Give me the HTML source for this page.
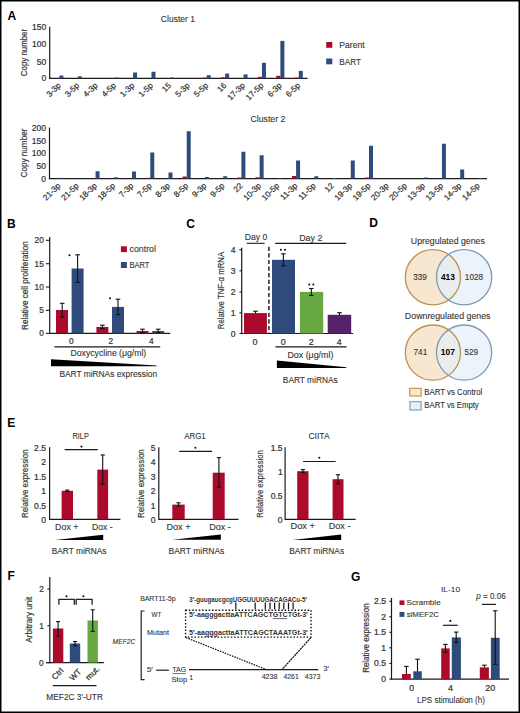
<!DOCTYPE html>
<html><head><meta charset="utf-8"><style>
html,body{margin:0;padding:0;background:#fff;}
svg{display:block;font-family:"Liberation Sans",sans-serif;}
text{stroke:#333;stroke-width:0.1px;}
text.tk{stroke-width:0.22px;}
text.ax{stroke-width:0.18px;}
text[font-weight="bold"]{stroke:none;}
</style></head><body>
<svg width="520" height="713" viewBox="0 0 520 713">
<rect x="0" y="0" width="520" height="713" fill="#fff"/>
<text x="7.50" y="20.0" font-size="12" font-weight="bold" fill="#000">A</text>
<text x="7.00" y="227.5" font-size="12" font-weight="bold" fill="#000">B</text>
<text x="186.21" y="227.5" font-size="12" font-weight="bold" fill="#000">C</text>
<text x="369.20" y="227.3" font-size="12" font-weight="bold" fill="#000">D</text>
<text x="7.20" y="426.6" font-size="12" font-weight="bold" fill="#000">E</text>
<text x="7.60" y="579.6" font-size="12" font-weight="bold" fill="#000">F</text>
<text x="351.01" y="580.7" font-size="12" font-weight="bold" fill="#000">G</text>
<text x="160.87" y="21.90" font-size="8.6" fill="#333333" textLength="34.15" lengthAdjust="spacingAndGlyphs">Cluster 1</text>
<line x1="49.7" y1="26.8" x2="49.7" y2="79.0" stroke="#1a1a1a" stroke-width="1.2"/>
<line x1="49.1" y1="78.4" x2="307.5" y2="78.4" stroke="#1a1a1a" stroke-width="1.2"/>
<text class="tk" x="32.05" y="30.20" font-size="8.5" fill="#333333" textLength="14.18" lengthAdjust="spacingAndGlyphs">150</text>
<text class="tk" x="32.05" y="47.40" font-size="8.5" fill="#333333" textLength="14.18" lengthAdjust="spacingAndGlyphs">100</text>
<text class="tk" x="36.78" y="64.60" font-size="8.5" fill="#333333" textLength="9.45" lengthAdjust="spacingAndGlyphs">50</text>
<text class="tk" x="41.50" y="81.40" font-size="8.5" fill="#333333" textLength="4.73" lengthAdjust="spacingAndGlyphs">0</text>
<text class="ax" transform="translate(26.70,75.80) rotate(-90)" x="-0.40" y="0" font-size="9.6" fill="#333333" textLength="47.33" lengthAdjust="spacingAndGlyphs">Copy number</text>
<rect x="59.41" y="75.50" width="4.00" height="2.90" fill="#2E4B7B"/>
<text class="tk" transform="translate(61.31,86.00) rotate(-45)" font-size="8.2" text-anchor="end" fill="#333333">3-3p</text>
<rect x="77.82" y="76.30" width="4.00" height="2.10" fill="#2E4B7B"/>
<text class="tk" transform="translate(79.72,86.00) rotate(-45)" font-size="8.2" text-anchor="end" fill="#333333">3-5p</text>
<text class="tk" transform="translate(98.14,86.00) rotate(-45)" font-size="8.2" text-anchor="end" fill="#333333">4-3p</text>
<rect x="114.65" y="77.50" width="4.00" height="0.90" fill="#2E4B7B"/>
<text class="tk" transform="translate(116.55,86.00) rotate(-45)" font-size="8.2" text-anchor="end" fill="#333333">4-5p</text>
<rect x="133.06" y="72.50" width="4.00" height="5.90" fill="#2E4B7B"/>
<text class="tk" transform="translate(134.96,86.00) rotate(-45)" font-size="8.2" text-anchor="end" fill="#333333">1-3p</text>
<rect x="151.48" y="71.75" width="4.00" height="6.65" fill="#2E4B7B"/>
<text class="tk" transform="translate(153.38,86.00) rotate(-45)" font-size="8.2" text-anchor="end" fill="#333333">1-5p</text>
<rect x="169.89" y="77.50" width="4.00" height="0.90" fill="#2E4B7B"/>
<text class="tk" transform="translate(171.79,86.00) rotate(-45)" font-size="8.2" text-anchor="end" fill="#333333">15</text>
<text class="tk" transform="translate(190.21,86.00) rotate(-45)" font-size="8.2" text-anchor="end" fill="#333333">5-3p</text>
<rect x="202.62" y="77.60" width="4.00" height="0.80" fill="#AC0A2C"/>
<rect x="206.72" y="75.20" width="4.00" height="3.20" fill="#2E4B7B"/>
<text class="tk" transform="translate(208.62,86.00) rotate(-45)" font-size="8.2" text-anchor="end" fill="#333333">5-5p</text>
<rect x="221.04" y="77.30" width="4.00" height="1.10" fill="#AC0A2C"/>
<rect x="225.14" y="73.60" width="4.00" height="4.80" fill="#2E4B7B"/>
<text class="tk" transform="translate(227.04,86.00) rotate(-45)" font-size="8.2" text-anchor="end" fill="#333333">16</text>
<rect x="243.55" y="74.40" width="4.00" height="4.00" fill="#2E4B7B"/>
<text class="tk" transform="translate(245.45,86.00) rotate(-45)" font-size="8.2" text-anchor="end" fill="#333333">17-3p</text>
<rect x="257.86" y="76.80" width="4.00" height="1.60" fill="#AC0A2C"/>
<rect x="261.96" y="62.80" width="4.00" height="15.60" fill="#2E4B7B"/>
<text class="tk" transform="translate(263.86,86.00) rotate(-45)" font-size="8.2" text-anchor="end" fill="#333333">17-5p</text>
<rect x="276.28" y="75.80" width="4.00" height="2.60" fill="#AC0A2C"/>
<rect x="280.38" y="40.90" width="4.00" height="37.50" fill="#2E4B7B"/>
<text class="tk" transform="translate(282.28,86.00) rotate(-45)" font-size="8.2" text-anchor="end" fill="#333333">6-3p</text>
<rect x="294.69" y="77.60" width="4.00" height="0.80" fill="#AC0A2C"/>
<rect x="298.79" y="70.90" width="4.00" height="7.50" fill="#2E4B7B"/>
<text class="tk" transform="translate(300.69,86.00) rotate(-45)" font-size="8.2" text-anchor="end" fill="#333333">6-5p</text>
<text x="250.56" y="121.90" font-size="8.6" fill="#333333" textLength="34.78" lengthAdjust="spacingAndGlyphs">Cluster 2</text>
<line x1="49.5" y1="127.5" x2="49.5" y2="179.2" stroke="#1a1a1a" stroke-width="1.2"/>
<line x1="48.9" y1="178.6" x2="487" y2="178.6" stroke="#1a1a1a" stroke-width="1.2"/>
<text class="tk" x="31.85" y="130.80" font-size="8.5" fill="#333333" textLength="14.18" lengthAdjust="spacingAndGlyphs">200</text>
<text class="tk" x="31.85" y="143.50" font-size="8.5" fill="#333333" textLength="14.18" lengthAdjust="spacingAndGlyphs">150</text>
<text class="tk" x="31.85" y="156.20" font-size="8.5" fill="#333333" textLength="14.18" lengthAdjust="spacingAndGlyphs">100</text>
<text class="tk" x="36.58" y="168.90" font-size="8.5" fill="#333333" textLength="9.45" lengthAdjust="spacingAndGlyphs">50</text>
<text class="tk" x="41.30" y="181.60" font-size="8.5" fill="#333333" textLength="4.73" lengthAdjust="spacingAndGlyphs">0</text>
<text class="ax" transform="translate(27.05,177.00) rotate(-90)" x="-0.41" y="0" font-size="9.6" fill="#333333" textLength="48.80" lengthAdjust="spacingAndGlyphs">Copy number</text>
<rect x="59.11" y="177.90" width="4.00" height="0.70" fill="#2E4B7B"/>
<text class="tk" transform="translate(61.01,186.20) rotate(-45)" font-size="8.2" text-anchor="end" fill="#333333">21-3p</text>
<text class="tk" transform="translate(79.24,186.20) rotate(-45)" font-size="8.2" text-anchor="end" fill="#333333">21-5p</text>
<rect x="95.57" y="171.25" width="4.00" height="7.35" fill="#2E4B7B"/>
<text class="tk" transform="translate(97.47,186.20) rotate(-45)" font-size="8.2" text-anchor="end" fill="#333333">18-3p</text>
<rect x="113.80" y="177.25" width="4.00" height="1.35" fill="#2E4B7B"/>
<text class="tk" transform="translate(115.70,186.20) rotate(-45)" font-size="8.2" text-anchor="end" fill="#333333">18-5p</text>
<rect x="132.03" y="171.50" width="4.00" height="7.10" fill="#2E4B7B"/>
<text class="tk" transform="translate(133.93,186.20) rotate(-45)" font-size="8.2" text-anchor="end" fill="#333333">7-3p</text>
<rect x="146.16" y="177.80" width="4.00" height="0.80" fill="#AC0A2C"/>
<rect x="150.26" y="152.50" width="4.00" height="26.10" fill="#2E4B7B"/>
<text class="tk" transform="translate(152.16,186.20) rotate(-45)" font-size="8.2" text-anchor="end" fill="#333333">7-5p</text>
<rect x="168.49" y="172.50" width="4.00" height="6.10" fill="#2E4B7B"/>
<text class="tk" transform="translate(170.39,186.20) rotate(-45)" font-size="8.2" text-anchor="end" fill="#333333">8-3p</text>
<rect x="182.62" y="176.50" width="4.00" height="2.10" fill="#AC0A2C"/>
<rect x="186.72" y="131.25" width="4.00" height="47.35" fill="#2E4B7B"/>
<text class="tk" transform="translate(188.62,186.20) rotate(-45)" font-size="8.2" text-anchor="end" fill="#333333">8-5p</text>
<rect x="204.95" y="177.00" width="4.00" height="1.60" fill="#2E4B7B"/>
<text class="tk" transform="translate(206.85,186.20) rotate(-45)" font-size="8.2" text-anchor="end" fill="#333333">9-3p</text>
<rect x="223.18" y="176.25" width="4.00" height="2.35" fill="#2E4B7B"/>
<text class="tk" transform="translate(225.08,186.20) rotate(-45)" font-size="8.2" text-anchor="end" fill="#333333">9-5p</text>
<rect x="237.31" y="177.50" width="4.00" height="1.10" fill="#AC0A2C"/>
<rect x="241.41" y="151.75" width="4.00" height="26.85" fill="#2E4B7B"/>
<text class="tk" transform="translate(243.31,186.20) rotate(-45)" font-size="8.2" text-anchor="end" fill="#333333">22</text>
<rect x="255.54" y="177.25" width="4.00" height="1.35" fill="#AC0A2C"/>
<rect x="259.64" y="155.25" width="4.00" height="23.35" fill="#2E4B7B"/>
<text class="tk" transform="translate(261.54,186.20) rotate(-45)" font-size="8.2" text-anchor="end" fill="#333333">10-3p</text>
<rect x="277.86" y="178.00" width="4.00" height="0.60" fill="#2E4B7B"/>
<text class="tk" transform="translate(279.76,186.20) rotate(-45)" font-size="8.2" text-anchor="end" fill="#333333">10-5p</text>
<rect x="291.99" y="176.00" width="4.00" height="2.60" fill="#AC0A2C"/>
<rect x="296.09" y="160.50" width="4.00" height="18.10" fill="#2E4B7B"/>
<text class="tk" transform="translate(297.99,186.20) rotate(-45)" font-size="8.2" text-anchor="end" fill="#333333">11-3p</text>
<rect x="314.32" y="176.25" width="4.00" height="2.35" fill="#2E4B7B"/>
<text class="tk" transform="translate(316.22,186.20) rotate(-45)" font-size="8.2" text-anchor="end" fill="#333333">11-5p</text>
<rect x="332.55" y="178.00" width="4.00" height="0.60" fill="#2E4B7B"/>
<text class="tk" transform="translate(334.45,186.20) rotate(-45)" font-size="8.2" text-anchor="end" fill="#333333">12</text>
<rect x="350.78" y="160.50" width="4.00" height="18.10" fill="#2E4B7B"/>
<text class="tk" transform="translate(352.68,186.20) rotate(-45)" font-size="8.2" text-anchor="end" fill="#333333">19-3p</text>
<rect x="364.91" y="177.50" width="4.00" height="1.10" fill="#AC0A2C"/>
<rect x="369.01" y="145.75" width="4.00" height="32.85" fill="#2E4B7B"/>
<text class="tk" transform="translate(370.91,186.20) rotate(-45)" font-size="8.2" text-anchor="end" fill="#333333">19-5p</text>
<text class="tk" transform="translate(389.14,186.20) rotate(-45)" font-size="8.2" text-anchor="end" fill="#333333">20-3p</text>
<text class="tk" transform="translate(407.37,186.20) rotate(-45)" font-size="8.2" text-anchor="end" fill="#333333">20-5p</text>
<rect x="423.70" y="177.50" width="4.00" height="1.10" fill="#2E4B7B"/>
<text class="tk" transform="translate(425.60,186.20) rotate(-45)" font-size="8.2" text-anchor="end" fill="#333333">13-3p</text>
<rect x="441.93" y="143.75" width="4.00" height="34.85" fill="#2E4B7B"/>
<text class="tk" transform="translate(443.83,186.20) rotate(-45)" font-size="8.2" text-anchor="end" fill="#333333">13-5p</text>
<rect x="460.16" y="169.50" width="4.00" height="9.10" fill="#2E4B7B"/>
<text class="tk" transform="translate(462.06,186.20) rotate(-45)" font-size="8.2" text-anchor="end" fill="#333333">14-3p</text>
<rect x="478.39" y="178.00" width="4.00" height="0.60" fill="#2E4B7B"/>
<text class="tk" transform="translate(480.29,186.20) rotate(-45)" font-size="8.2" text-anchor="end" fill="#333333">14-5p</text>
<rect x="326.20" y="42.00" width="6.10" height="5.80" fill="#AC0A2C"/>
<rect x="326.20" y="58.50" width="6.10" height="5.80" fill="#2E4B7B"/>
<text x="339.29" y="47.70" font-size="8.6" fill="#333333" textLength="25.37" lengthAdjust="spacingAndGlyphs">Parent</text>
<text x="339.33" y="64.50" font-size="8.2" fill="#333333" textLength="21.65" lengthAdjust="spacingAndGlyphs">BART</text>
<line x1="49.7" y1="236.9" x2="49.7" y2="333.9" stroke="#1a1a1a" stroke-width="1.2"/>
<line x1="49.7" y1="333.4" x2="170.3" y2="333.4" stroke="#1a1a1a" stroke-width="1.2"/>
<line x1="45.9" y1="240.3" x2="49.7" y2="240.3" stroke="#1a1a1a" stroke-width="1.1"/>
<text class="tk" x="34.59" y="243.20" font-size="8.3" fill="#333333" textLength="9.23" lengthAdjust="spacingAndGlyphs">20</text>
<line x1="45.9" y1="263.7" x2="49.7" y2="263.7" stroke="#1a1a1a" stroke-width="1.1"/>
<text class="tk" x="34.62" y="266.60" font-size="8.3" fill="#333333" textLength="9.23" lengthAdjust="spacingAndGlyphs">15</text>
<line x1="45.9" y1="287" x2="49.7" y2="287" stroke="#1a1a1a" stroke-width="1.1"/>
<text class="tk" x="34.59" y="289.90" font-size="8.3" fill="#333333" textLength="9.23" lengthAdjust="spacingAndGlyphs">10</text>
<line x1="45.9" y1="310.3" x2="49.7" y2="310.3" stroke="#1a1a1a" stroke-width="1.1"/>
<text class="tk" x="39.23" y="313.20" font-size="8.3" fill="#333333" textLength="4.62" lengthAdjust="spacingAndGlyphs">5</text>
<line x1="45.9" y1="333.4" x2="49.7" y2="333.4" stroke="#1a1a1a" stroke-width="1.1"/>
<text class="tk" x="39.21" y="336.30" font-size="8.3" fill="#333333" textLength="4.62" lengthAdjust="spacingAndGlyphs">0</text>
<text class="ax" transform="translate(27.70,329.30) rotate(-90)" x="-0.67" y="0" font-size="9" fill="#333333" textLength="88.70" lengthAdjust="spacingAndGlyphs">Relative cell proliferation</text>
<rect x="56.00" y="310.00" width="12.00" height="23.40" fill="#AC0A2C"/>
<rect x="71.60" y="268.50" width="12.00" height="64.90" fill="#2E4B7B"/>
<rect x="96.40" y="326.90" width="12.00" height="6.50" fill="#AC0A2C"/>
<rect x="112.00" y="306.90" width="12.00" height="26.50" fill="#2E4B7B"/>
<rect x="136.50" y="331.00" width="12.00" height="2.40" fill="#AC0A2C"/>
<rect x="152.20" y="331.00" width="12.00" height="2.40" fill="#2E4B7B"/>
<line x1="62.2" y1="303.3" x2="62.2" y2="317.2" stroke="#111" stroke-width="1.1"/>
<line x1="59.900000000000006" y1="303.3" x2="64.5" y2="303.3" stroke="#111" stroke-width="1.1"/>
<line x1="59.900000000000006" y1="317.2" x2="64.5" y2="317.2" stroke="#111" stroke-width="1.1"/>
<line x1="77.6" y1="254.8" x2="77.6" y2="282.4" stroke="#111" stroke-width="1.1"/>
<line x1="75.3" y1="254.8" x2="79.89999999999999" y2="254.8" stroke="#111" stroke-width="1.1"/>
<line x1="75.3" y1="282.4" x2="79.89999999999999" y2="282.4" stroke="#111" stroke-width="1.1"/>
<line x1="102.4" y1="325.2" x2="102.4" y2="328.6" stroke="#111" stroke-width="1.1"/>
<line x1="100.10000000000001" y1="325.2" x2="104.7" y2="325.2" stroke="#111" stroke-width="1.1"/>
<line x1="100.10000000000001" y1="328.6" x2="104.7" y2="328.6" stroke="#111" stroke-width="1.1"/>
<line x1="118" y1="299.2" x2="118" y2="314.6" stroke="#111" stroke-width="1.1"/>
<line x1="115.7" y1="299.2" x2="120.3" y2="299.2" stroke="#111" stroke-width="1.1"/>
<line x1="115.7" y1="314.6" x2="120.3" y2="314.6" stroke="#111" stroke-width="1.1"/>
<line x1="142.5" y1="329.2" x2="142.5" y2="332.8" stroke="#111" stroke-width="1.1"/>
<line x1="140.2" y1="329.2" x2="144.8" y2="329.2" stroke="#111" stroke-width="1.1"/>
<line x1="140.2" y1="332.8" x2="144.8" y2="332.8" stroke="#111" stroke-width="1.1"/>
<line x1="158.2" y1="329.2" x2="158.2" y2="332.8" stroke="#111" stroke-width="1.1"/>
<line x1="155.89999999999998" y1="329.2" x2="160.5" y2="329.2" stroke="#111" stroke-width="1.1"/>
<line x1="155.89999999999998" y1="332.8" x2="160.5" y2="332.8" stroke="#111" stroke-width="1.1"/>
<circle cx="69.5" cy="255.2" r="1.05" fill="#111"/>
<circle cx="110" cy="298.2" r="1.05" fill="#111"/>
<rect x="120.90" y="246.30" width="6.00" height="5.80" fill="#AC0A2C"/>
<rect x="120.90" y="262.00" width="6.00" height="6.00" fill="#2E4B7B"/>
<text x="129.63" y="252.10" font-size="8.7" fill="#333333" textLength="26.26" lengthAdjust="spacingAndGlyphs">control</text>
<text x="129.38" y="268.00" font-size="8.2" fill="#333333" textLength="20.09" lengthAdjust="spacingAndGlyphs">BART</text>
<text class="tk" x="68.89" y="343.50" font-size="8.3" fill="#333333" textLength="4.62" lengthAdjust="spacingAndGlyphs">0</text>
<text class="tk" x="108.49" y="343.50" font-size="8.3" fill="#333333" textLength="4.62" lengthAdjust="spacingAndGlyphs">2</text>
<text class="tk" x="149.02" y="343.50" font-size="8.3" fill="#333333" textLength="4.62" lengthAdjust="spacingAndGlyphs">4</text>
<line x1="54.4" y1="346.9" x2="160.2" y2="346.9" stroke="#1a1a1a" stroke-width="1.1"/>
<text x="70.49" y="355.90" font-size="8.6" fill="#333333" textLength="75.75" lengthAdjust="spacingAndGlyphs">Doxycycline (μg/ml)</text>
<polygon points="51,359.2 156.5,365.5 156.5,366.3 51,366.3" fill="#000"/>
<text x="59.42" y="377.00" font-size="8.3" fill="#333333" textLength="97.72" lengthAdjust="spacingAndGlyphs">BART miRNAs expression</text>
<line x1="241.7" y1="247.7" x2="241.7" y2="334" stroke="#1a1a1a" stroke-width="1.2"/>
<line x1="241.7" y1="333.5" x2="353.1" y2="333.5" stroke="#1a1a1a" stroke-width="1.2"/>
<line x1="239.4" y1="249.7" x2="241.7" y2="249.7" stroke="#1a1a1a" stroke-width="1.1"/>
<text class="tk" x="230.67" y="252.90" font-size="8.6" fill="#333333" textLength="4.78" lengthAdjust="spacingAndGlyphs">4</text>
<line x1="239.4" y1="270.8" x2="241.7" y2="270.8" stroke="#1a1a1a" stroke-width="1.1"/>
<text class="tk" x="230.80" y="274.00" font-size="8.6" fill="#333333" textLength="4.78" lengthAdjust="spacingAndGlyphs">3</text>
<line x1="239.4" y1="291.9" x2="241.7" y2="291.9" stroke="#1a1a1a" stroke-width="1.1"/>
<text class="tk" x="230.85" y="295.10" font-size="8.6" fill="#333333" textLength="4.78" lengthAdjust="spacingAndGlyphs">2</text>
<line x1="239.4" y1="312.9" x2="241.7" y2="312.9" stroke="#1a1a1a" stroke-width="1.1"/>
<text class="tk" x="230.84" y="316.10" font-size="8.6" fill="#333333" textLength="4.78" lengthAdjust="spacingAndGlyphs">1</text>
<line x1="239.4" y1="333.5" x2="241.7" y2="333.5" stroke="#1a1a1a" stroke-width="1.1"/>
<text class="tk" x="230.75" y="336.70" font-size="8.6" fill="#333333" textLength="4.78" lengthAdjust="spacingAndGlyphs">0</text>
<text class="ax" transform="translate(223.83,328.60) rotate(-90)" x="-0.64" y="0" font-size="9.4" fill="#333333" textLength="77.35" lengthAdjust="spacingAndGlyphs">Relative TNF-α mRNA</text>
<rect x="244.00" y="313.10" width="22.90" height="20.40" fill="#AC0A2C"/>
<rect x="272.00" y="259.80" width="23.00" height="73.70" fill="#2E4B7B"/>
<rect x="299.90" y="291.90" width="23.30" height="41.60" fill="#68A843"/>
<rect x="327.70" y="314.80" width="23.50" height="18.70" fill="#56226A"/>
<line x1="255.5" y1="311.2" x2="255.5" y2="313.4" stroke="#111" stroke-width="1.1"/>
<line x1="253.05" y1="311.2" x2="257.95" y2="311.2" stroke="#111" stroke-width="1.1"/>
<line x1="283.4" y1="253.8" x2="283.4" y2="265.7" stroke="#111" stroke-width="1.1"/>
<line x1="281.09999999999997" y1="253.8" x2="285.7" y2="253.8" stroke="#111" stroke-width="1.1"/>
<line x1="281.09999999999997" y1="265.7" x2="285.7" y2="265.7" stroke="#111" stroke-width="1.1"/>
<line x1="311.3" y1="288.5" x2="311.3" y2="295.4" stroke="#111" stroke-width="1.1"/>
<line x1="309.05" y1="288.5" x2="313.55" y2="288.5" stroke="#111" stroke-width="1.1"/>
<line x1="309.05" y1="295.4" x2="313.55" y2="295.4" stroke="#111" stroke-width="1.1"/>
<line x1="339.5" y1="312.7" x2="339.5" y2="315.2" stroke="#111" stroke-width="1.1"/>
<line x1="337.2" y1="312.7" x2="341.8" y2="312.7" stroke="#111" stroke-width="1.1"/>
<circle cx="280.9" cy="249.8" r="1.05" fill="#111"/>
<circle cx="285" cy="249.8" r="1.05" fill="#111"/>
<circle cx="309.3" cy="284.5" r="1.05" fill="#111"/>
<circle cx="313.4" cy="284.5" r="1.05" fill="#111"/>
<line x1="268.9" y1="246.7" x2="268.9" y2="333.5" stroke="#222" stroke-width="1.5" stroke-dasharray="4.2,2.4"/>
<text x="244.69" y="240.00" font-size="8.6" fill="#333333" textLength="22.55" lengthAdjust="spacingAndGlyphs">Day 0</text>
<line x1="246.7" y1="243.3" x2="264.6" y2="243.3" stroke="#1a1a1a" stroke-width="1.1"/>
<text x="299.17" y="240.50" font-size="8.8" fill="#333333" textLength="23.28" lengthAdjust="spacingAndGlyphs">Day 2</text>
<line x1="275.2" y1="243.4" x2="346.2" y2="243.4" stroke="#1a1a1a" stroke-width="1.1"/>
<text class="tk" x="252.53" y="345.10" font-size="8.9" fill="#333333" textLength="4.95" lengthAdjust="spacingAndGlyphs">0</text>
<text class="tk" x="280.83" y="345.10" font-size="8.9" fill="#333333" textLength="4.95" lengthAdjust="spacingAndGlyphs">0</text>
<text class="tk" x="308.83" y="345.10" font-size="8.9" fill="#333333" textLength="4.95" lengthAdjust="spacingAndGlyphs">2</text>
<text class="tk" x="336.85" y="345.10" font-size="8.9" fill="#333333" textLength="4.95" lengthAdjust="spacingAndGlyphs">4</text>
<line x1="275.4" y1="346.9" x2="346.6" y2="346.9" stroke="#1a1a1a" stroke-width="1.1"/>
<text x="287.47" y="357.70" font-size="8.7" fill="#333333" textLength="45.87" lengthAdjust="spacingAndGlyphs">Dox (μg/ml)</text>
<polygon points="276.9,360.5 346.4,367.2 346.4,368 276.9,368" fill="#000"/>
<text x="282.82" y="383.10" font-size="8.4" fill="#333333" textLength="54.88" lengthAdjust="spacingAndGlyphs">BART miRNAs</text>
<text x="410.82" y="243.50" font-size="8.4" fill="#333333" textLength="73.99" lengthAdjust="spacingAndGlyphs">Upregulated genes</text>
<text x="404.88" y="319.40" font-size="8.4" fill="#333333" textLength="85.64" lengthAdjust="spacingAndGlyphs">Downregulated genes</text>
<circle cx="432.9" cy="277.2" r="27.6" fill="#F7E6D0"/>
<circle cx="464.1" cy="277.2" r="27.6" fill="#E6EEF8" fill-opacity="0.72"/>
<circle cx="432.9" cy="277.2" r="27.6" fill="none" stroke="#B8954E" stroke-width="1.3"/>
<circle cx="464.1" cy="277.2" r="27.6" fill="none" stroke="#7D9BB5" stroke-width="1.3"/>
<circle cx="432.9" cy="352.6" r="27.6" fill="#F7E6D0"/>
<circle cx="464.1" cy="352.6" r="27.6" fill="#E6EEF8" fill-opacity="0.72"/>
<circle cx="432.9" cy="352.6" r="27.6" fill="none" stroke="#B8954E" stroke-width="1.3"/>
<circle cx="464.1" cy="352.6" r="27.6" fill="none" stroke="#7D9BB5" stroke-width="1.3"/>
<text x="413.20" y="279.90" font-size="8.2" fill="#333333" textLength="13.68" lengthAdjust="spacingAndGlyphs">339</text>
<text class="tk" x="440.88" y="279.90" font-size="8.4" font-weight="bold" fill="#000" textLength="14.02" lengthAdjust="spacingAndGlyphs">413</text>
<text x="464.84" y="279.90" font-size="8.2" fill="#333333" textLength="18.24" lengthAdjust="spacingAndGlyphs">1028</text>
<text x="413.55" y="355.10" font-size="8.2" fill="#333333" textLength="13.68" lengthAdjust="spacingAndGlyphs">741</text>
<text class="tk" x="440.81" y="355.10" font-size="8.4" font-weight="bold" fill="#000" textLength="14.02" lengthAdjust="spacingAndGlyphs">107</text>
<text x="464.39" y="355.10" font-size="8.2" fill="#333333" textLength="13.68" lengthAdjust="spacingAndGlyphs">529</text>
<rect x="409.7" y="388.4" width="11.5" height="7.6" fill="#F7E6D0" stroke="#C4A05A" stroke-width="1.3"/>
<rect x="409.9" y="401.6" width="11.2" height="8.4" fill="#E6EEF8" stroke="#8AA8C4" stroke-width="1.3"/>
<text x="424.26" y="394.80" font-size="8.2" fill="#333333" textLength="58.06" lengthAdjust="spacingAndGlyphs">BART vs Control</text>
<text x="424.37" y="408.40" font-size="8.2" fill="#333333" textLength="54.35" lengthAdjust="spacingAndGlyphs">BART vs Empty</text>
<line x1="49.6" y1="447.3" x2="49.6" y2="519.9" stroke="#1a1a1a" stroke-width="1.2"/>
<line x1="49.6" y1="519.3" x2="120.4" y2="519.3" stroke="#1a1a1a" stroke-width="1.2"/>
<text class="tk" x="34.11" y="451.00" font-size="8.6" fill="#333333" textLength="11.96" lengthAdjust="spacingAndGlyphs">2.5</text>
<text class="tk" x="41.35" y="465.40" font-size="8.6" fill="#333333" textLength="4.78" lengthAdjust="spacingAndGlyphs">2</text>
<text class="tk" x="34.11" y="479.80" font-size="8.6" fill="#333333" textLength="11.96" lengthAdjust="spacingAndGlyphs">1.5</text>
<text class="tk" x="41.34" y="494.20" font-size="8.6" fill="#333333" textLength="4.78" lengthAdjust="spacingAndGlyphs">1</text>
<text class="tk" x="34.11" y="508.60" font-size="8.6" fill="#333333" textLength="11.96" lengthAdjust="spacingAndGlyphs">0.5</text>
<text class="tk" x="41.25" y="523.00" font-size="8.6" fill="#333333" textLength="4.78" lengthAdjust="spacingAndGlyphs">0</text>
<text class="ax" transform="translate(28.23,517.40) rotate(-90)" x="-0.65" y="0" font-size="8.8" fill="#333333" textLength="68.66" lengthAdjust="spacingAndGlyphs">Relative expression</text>
<text x="72.50" y="438.80" font-size="9.4" fill="#333333" textLength="16.39" lengthAdjust="spacingAndGlyphs">RILP</text>
<rect x="61.60" y="490.80" width="11.40" height="28.50" fill="#AC0A2C"/>
<rect x="97.30" y="469.60" width="10.80" height="49.70" fill="#AC0A2C"/>
<line x1="67.3" y1="490.1" x2="67.3" y2="491.5" stroke="#111" stroke-width="1.1"/>
<line x1="65.2" y1="490.1" x2="69.39999999999999" y2="490.1" stroke="#111" stroke-width="1.1"/>
<line x1="65.2" y1="491.5" x2="69.39999999999999" y2="491.5" stroke="#111" stroke-width="1.1"/>
<line x1="102.7" y1="455" x2="102.7" y2="484.2" stroke="#111" stroke-width="1.1"/>
<line x1="100.60000000000001" y1="455" x2="104.8" y2="455" stroke="#111" stroke-width="1.1"/>
<line x1="100.60000000000001" y1="484.2" x2="104.8" y2="484.2" stroke="#111" stroke-width="1.1"/>
<line x1="64.7" y1="449.6" x2="97.8" y2="449.6" stroke="#1a1a1a" stroke-width="1.2"/>
<circle cx="81.5" cy="446.6" r="1.05" fill="#111"/>
<text x="55.07" y="530.10" font-size="8.2" fill="#333333" textLength="23.47" lengthAdjust="spacingAndGlyphs">Dox +</text>
<text x="91.99" y="530.10" font-size="8.2" fill="#333333" textLength="20.59" lengthAdjust="spacingAndGlyphs">Dox -</text>
<polygon points="55,539.9 103.2,534.7 103.2,539.9" fill="#000"/>
<text x="51.72" y="554.20" font-size="8.2" fill="#333333" textLength="54.78" lengthAdjust="spacingAndGlyphs">BART miRNAs</text>
<line x1="158.8" y1="447.3" x2="158.8" y2="519.9" stroke="#1a1a1a" stroke-width="1.2"/>
<line x1="158.8" y1="519.3" x2="238.5" y2="519.3" stroke="#1a1a1a" stroke-width="1.2"/>
<text class="tk" x="150.78" y="451.00" font-size="8.6" fill="#333333" textLength="4.78" lengthAdjust="spacingAndGlyphs">5</text>
<text class="tk" x="150.67" y="465.40" font-size="8.6" fill="#333333" textLength="4.78" lengthAdjust="spacingAndGlyphs">4</text>
<text class="tk" x="150.80" y="479.80" font-size="8.6" fill="#333333" textLength="4.78" lengthAdjust="spacingAndGlyphs">3</text>
<text class="tk" x="150.85" y="494.20" font-size="8.6" fill="#333333" textLength="4.78" lengthAdjust="spacingAndGlyphs">2</text>
<text class="tk" x="150.84" y="508.60" font-size="8.6" fill="#333333" textLength="4.78" lengthAdjust="spacingAndGlyphs">1</text>
<text class="tk" x="150.75" y="523.00" font-size="8.6" fill="#333333" textLength="4.78" lengthAdjust="spacingAndGlyphs">0</text>
<text class="ax" transform="translate(143.83,517.30) rotate(-90)" x="-0.65" y="0" font-size="8.8" fill="#333333" textLength="68.66" lengthAdjust="spacingAndGlyphs">Relative expression</text>
<text x="184.18" y="438.80" font-size="9.4" fill="#333333" textLength="21.60" lengthAdjust="spacingAndGlyphs">ARG1</text>
<rect x="172.30" y="504.60" width="12.40" height="14.70" fill="#AC0A2C"/>
<rect x="212.70" y="472.70" width="12.00" height="46.60" fill="#AC0A2C"/>
<line x1="178.5" y1="502.8" x2="178.5" y2="506.2" stroke="#111" stroke-width="1.1"/>
<line x1="176.4" y1="502.8" x2="180.6" y2="502.8" stroke="#111" stroke-width="1.1"/>
<line x1="176.4" y1="506.2" x2="180.6" y2="506.2" stroke="#111" stroke-width="1.1"/>
<line x1="218.9" y1="457.7" x2="218.9" y2="487.1" stroke="#111" stroke-width="1.1"/>
<line x1="216.8" y1="457.7" x2="221.0" y2="457.7" stroke="#111" stroke-width="1.1"/>
<line x1="216.8" y1="487.1" x2="221.0" y2="487.1" stroke="#111" stroke-width="1.1"/>
<line x1="179.2" y1="451.3" x2="212" y2="451.3" stroke="#1a1a1a" stroke-width="1.2"/>
<circle cx="195.4" cy="447.8" r="1.05" fill="#111"/>
<text x="166.56" y="529.80" font-size="8.2" fill="#333333" textLength="23.89" lengthAdjust="spacingAndGlyphs">Dox +</text>
<text x="209.26" y="529.80" font-size="8.2" fill="#333333" textLength="21.54" lengthAdjust="spacingAndGlyphs">Dox -</text>
<polygon points="172.1,539.8 220.8,534.6 220.8,539.8" fill="#000"/>
<text x="168.51" y="553.80" font-size="8.2" fill="#333333" textLength="55.80" lengthAdjust="spacingAndGlyphs">BART miRNAs</text>
<line x1="285.1" y1="447.3" x2="285.1" y2="519.9" stroke="#1a1a1a" stroke-width="1.2"/>
<line x1="285.1" y1="519.3" x2="355.7" y2="519.3" stroke="#1a1a1a" stroke-width="1.2"/>
<text class="tk" x="270.71" y="451.00" font-size="8.6" fill="#333333" textLength="11.96" lengthAdjust="spacingAndGlyphs">1.5</text>
<text class="tk" x="277.94" y="475.00" font-size="8.6" fill="#333333" textLength="4.78" lengthAdjust="spacingAndGlyphs">1</text>
<text class="tk" x="270.71" y="499.00" font-size="8.6" fill="#333333" textLength="11.96" lengthAdjust="spacingAndGlyphs">0.5</text>
<text class="tk" x="277.85" y="523.00" font-size="8.6" fill="#333333" textLength="4.78" lengthAdjust="spacingAndGlyphs">0</text>
<text class="ax" transform="translate(263.13,517.20) rotate(-90)" x="-0.64" y="0" font-size="8.8" fill="#333333" textLength="67.74" lengthAdjust="spacingAndGlyphs">Relative expression</text>
<text x="308.38" y="438.80" font-size="9.4" fill="#333333" textLength="21.24" lengthAdjust="spacingAndGlyphs">CIITA</text>
<rect x="297.20" y="471.20" width="11.30" height="48.10" fill="#AC0A2C"/>
<rect x="332.60" y="479.20" width="10.90" height="40.10" fill="#AC0A2C"/>
<line x1="302.9" y1="469.6" x2="302.9" y2="472.4" stroke="#111" stroke-width="1.1"/>
<line x1="300.79999999999995" y1="469.6" x2="305.0" y2="469.6" stroke="#111" stroke-width="1.1"/>
<line x1="300.79999999999995" y1="472.4" x2="305.0" y2="472.4" stroke="#111" stroke-width="1.1"/>
<line x1="338" y1="474.7" x2="338" y2="483.8" stroke="#111" stroke-width="1.1"/>
<line x1="335.9" y1="474.7" x2="340.1" y2="474.7" stroke="#111" stroke-width="1.1"/>
<line x1="335.9" y1="483.8" x2="340.1" y2="483.8" stroke="#111" stroke-width="1.1"/>
<line x1="303.1" y1="461.5" x2="335.7" y2="461.5" stroke="#1a1a1a" stroke-width="1.2"/>
<circle cx="319.3" cy="457.8" r="1.05" fill="#111"/>
<text x="290.54" y="528.90" font-size="8.2" fill="#333333" textLength="24.41" lengthAdjust="spacingAndGlyphs">Dox +</text>
<text x="328.76" y="528.90" font-size="8.2" fill="#333333" textLength="21.65" lengthAdjust="spacingAndGlyphs">Dox -</text>
<polygon points="292.5,540 341.2,534.5 341.2,540" fill="#000"/>
<text x="289.32" y="553.80" font-size="8.2" fill="#333333" textLength="54.78" lengthAdjust="spacingAndGlyphs">BART miRNAs</text>
<line x1="49.8" y1="576.9" x2="49.8" y2="663.2" stroke="#1a1a1a" stroke-width="1.2"/>
<line x1="46" y1="662.6" x2="103.9" y2="662.6" stroke="#1a1a1a" stroke-width="1.2"/>
<line x1="47.4" y1="589" x2="49.8" y2="589" stroke="#1a1a1a" stroke-width="1.1"/>
<text class="tk" x="39.20" y="591.90" font-size="8.3" fill="#333333" textLength="4.62" lengthAdjust="spacingAndGlyphs">2</text>
<line x1="47.4" y1="625.7" x2="49.8" y2="625.7" stroke="#1a1a1a" stroke-width="1.1"/>
<text class="tk" x="39.19" y="628.60" font-size="8.3" fill="#333333" textLength="4.62" lengthAdjust="spacingAndGlyphs">1</text>
<line x1="47.4" y1="662.6" x2="49.8" y2="662.6" stroke="#1a1a1a" stroke-width="1.1"/>
<text class="tk" x="39.11" y="665.50" font-size="8.3" fill="#333333" textLength="4.62" lengthAdjust="spacingAndGlyphs">0</text>
<text class="ax" transform="translate(32.36,642.70) rotate(-90)" x="-0.02" y="0" font-size="8.3" fill="#333333" textLength="45.98" lengthAdjust="spacingAndGlyphs">Arbitrary unit</text>
<rect x="52.90" y="628.50" width="10.40" height="34.10" fill="#AC0A2C"/>
<rect x="69.80" y="643.50" width="10.40" height="19.10" fill="#2E4B7B"/>
<rect x="87.50" y="620.50" width="10.40" height="42.10" fill="#68A843"/>
<line x1="58.1" y1="621.6" x2="58.1" y2="636.3" stroke="#111" stroke-width="1.1"/>
<line x1="56.1" y1="621.6" x2="60.1" y2="621.6" stroke="#111" stroke-width="1.1"/>
<line x1="56.1" y1="636.3" x2="60.1" y2="636.3" stroke="#111" stroke-width="1.1"/>
<line x1="75" y1="641.5" x2="75" y2="645.6" stroke="#111" stroke-width="1.1"/>
<line x1="73.0" y1="641.5" x2="77.0" y2="641.5" stroke="#111" stroke-width="1.1"/>
<line x1="73.0" y1="645.6" x2="77.0" y2="645.6" stroke="#111" stroke-width="1.1"/>
<line x1="92.7" y1="609.8" x2="92.7" y2="631.4" stroke="#111" stroke-width="1.1"/>
<line x1="90.7" y1="609.8" x2="94.7" y2="609.8" stroke="#111" stroke-width="1.1"/>
<line x1="90.7" y1="631.4" x2="94.7" y2="631.4" stroke="#111" stroke-width="1.1"/>
<path d="M58.9,604.8 V599.3 H74.3 V604.8 M76.2,604.8 V599.3 H92.1 V604.8" fill="none" stroke="#222" stroke-width="1.3"/>
<circle cx="66.5" cy="596.3" r="1.05" fill="#111"/>
<circle cx="83.4" cy="596.2" r="1.05" fill="#111"/>
<text class="tk" transform="translate(64.00,671.20) rotate(-45)" font-size="8.2" text-anchor="end" fill="#333333">Ctrl</text>
<text class="tk" transform="translate(81.70,672.30) rotate(-45)" font-size="8.2" text-anchor="end" fill="#333333">WT</text>
<text class="tk" transform="translate(100.10,669.50) rotate(-45)" font-size="8.2" text-anchor="end" fill="#333333">mut.</text>
<line x1="52.8" y1="685.7" x2="96.5" y2="685.7" stroke="#1a1a1a" stroke-width="1.2"/>
<text x="46.32" y="699.70" font-size="8.3" fill="#333333" textLength="56.67" lengthAdjust="spacingAndGlyphs">MEF2C 3′-UTR</text>
<text x="140.14" y="601.20" font-size="7.2" fill="#333333" textLength="35.54" lengthAdjust="spacingAndGlyphs">BART11-5p</text>
<text x="189.36" y="601.50" font-size="7" font-weight="bold" fill="#333333" textLength="117.65" lengthAdjust="spacingAndGlyphs">3′-guugaucgcgUGGUUUUGACAGACu-5′</text>
<line x1="235.8" y1="602.6" x2="235.8" y2="609.2" stroke="#111" stroke-width="1.2"/>
<line x1="255.2" y1="602.6" x2="255.2" y2="609.2" stroke="#111" stroke-width="1.2"/>
<line x1="265.3" y1="602.6" x2="265.3" y2="609.2" stroke="#111" stroke-width="1.2"/>
<line x1="270" y1="602.6" x2="270" y2="609.2" stroke="#111" stroke-width="1.2"/>
<line x1="274.6" y1="602.6" x2="274.6" y2="609.2" stroke="#111" stroke-width="1.2"/>
<line x1="279.2" y1="602.6" x2="279.2" y2="609.2" stroke="#111" stroke-width="1.2"/>
<line x1="283.8" y1="602.6" x2="283.8" y2="609.2" stroke="#111" stroke-width="1.2"/>
<line x1="288.5" y1="602.6" x2="288.5" y2="609.2" stroke="#111" stroke-width="1.2"/>
<line x1="293.1" y1="602.6" x2="293.1" y2="609.2" stroke="#111" stroke-width="1.2"/>
<rect x="185.6" y="610.2" width="125.4" height="26.9" fill="none" stroke="#111" stroke-width="1.4" stroke-dasharray="1.5,1.8"/>
<text x="151.57" y="617.00" font-size="7.2" fill="#333333" textLength="9.87" lengthAdjust="spacingAndGlyphs">WT</text>
<text x="147.01" y="635.00" font-size="7.2" fill="#333333" textLength="21.94" lengthAdjust="spacingAndGlyphs">Mutant</text>
<text x="188.98" y="617.20" font-size="7" font-weight="bold" fill="#333333" textLength="118.84" lengthAdjust="spacingAndGlyphs">5′-aagggacttaATTCAGCTGTCTGt-3′</text>
<text x="188.98" y="634.90" font-size="7" font-weight="bold" fill="#333333" textLength="118.84" lengthAdjust="spacingAndGlyphs">5′-aagggacttaATTCAGCTAAATGt-3′</text>
<line x1="273" y1="618.6" x2="287" y2="618.6" stroke="#444" stroke-width="0.8"/>
<path d="M144.6,611 H141.2 V679.7 H144.6" fill="none" stroke="#222" stroke-width="1.2"/>
<text x="112.59" y="644.30" font-size="7.2" font-style="italic" fill="#333333" textLength="22.77" lengthAdjust="spacingAndGlyphs">MEF2C</text>
<text x="146.67" y="671.60" font-size="7.2" fill="#333333" textLength="6.19" lengthAdjust="spacingAndGlyphs">5′</text>
<line x1="156.2" y1="670.2" x2="168.9" y2="670.2" stroke="#1a1a1a" stroke-width="1.2"/>
<text x="172.25" y="672.30" font-size="7.2" fill="#333333" textLength="14.06" lengthAdjust="spacingAndGlyphs">TAG</text>
<line x1="172.4" y1="673.6" x2="185.8" y2="673.6" stroke="#333" stroke-width="0.7"/>
<line x1="189" y1="669.7" x2="318.3" y2="669.7" stroke="#1a1a1a" stroke-width="1.2"/>
<text x="171.55" y="682.00" font-size="7.4" fill="#333333" textLength="15.67" lengthAdjust="spacingAndGlyphs">Stop</text>
<text x="189.20" y="679.70" font-size="7.2" fill="#333333" textLength="4.00" lengthAdjust="spacingAndGlyphs">1</text>
<text x="261.64" y="678.60" font-size="7.2" fill="#333333" textLength="15.98" lengthAdjust="spacingAndGlyphs">4238</text>
<text x="283.54" y="678.60" font-size="7.2" fill="#333333" textLength="15.19" lengthAdjust="spacingAndGlyphs">4261</text>
<text x="304.84" y="678.60" font-size="7.2" fill="#333333" textLength="15.57" lengthAdjust="spacingAndGlyphs">4373</text>
<text x="323.21" y="671.30" font-size="7.2" fill="#333333" textLength="5.63" lengthAdjust="spacingAndGlyphs">3′</text>
<line x1="186" y1="637.6" x2="266.4" y2="669.6" stroke="#111" stroke-width="1.2" stroke-dasharray="1.6,1.0"/>
<line x1="310.9" y1="637.6" x2="282" y2="669.6" stroke="#111" stroke-width="1.2" stroke-dasharray="2.2,0.6"/>
<line x1="391.5" y1="597.9" x2="391.5" y2="679.7" stroke="#1a1a1a" stroke-width="1.2"/>
<line x1="391.5" y1="679.1" x2="509" y2="679.1" stroke="#1a1a1a" stroke-width="1.2"/>
<line x1="389.3" y1="601.3" x2="391.5" y2="601.3" stroke="#1a1a1a" stroke-width="1.1"/>
<text class="tk" x="374.11" y="604.30" font-size="8.6" fill="#333333" textLength="11.96" lengthAdjust="spacingAndGlyphs">2.5</text>
<line x1="389.3" y1="616.8" x2="391.5" y2="616.8" stroke="#1a1a1a" stroke-width="1.1"/>
<text class="tk" x="381.35" y="619.80" font-size="8.6" fill="#333333" textLength="4.78" lengthAdjust="spacingAndGlyphs">2</text>
<line x1="389.3" y1="632.3" x2="391.5" y2="632.3" stroke="#1a1a1a" stroke-width="1.1"/>
<text class="tk" x="374.11" y="635.30" font-size="8.6" fill="#333333" textLength="11.96" lengthAdjust="spacingAndGlyphs">1.5</text>
<line x1="389.3" y1="647.8" x2="391.5" y2="647.8" stroke="#1a1a1a" stroke-width="1.1"/>
<text class="tk" x="381.34" y="650.80" font-size="8.6" fill="#333333" textLength="4.78" lengthAdjust="spacingAndGlyphs">1</text>
<line x1="389.3" y1="663.4" x2="391.5" y2="663.4" stroke="#1a1a1a" stroke-width="1.1"/>
<text class="tk" x="374.11" y="666.40" font-size="8.6" fill="#333333" textLength="11.96" lengthAdjust="spacingAndGlyphs">0.5</text>
<line x1="389.3" y1="679.1" x2="391.5" y2="679.1" stroke="#1a1a1a" stroke-width="1.1"/>
<text class="tk" x="381.25" y="682.10" font-size="8.6" fill="#333333" textLength="4.78" lengthAdjust="spacingAndGlyphs">0</text>
<text class="ax" transform="translate(368.50,672.20) rotate(-90)" x="-0.65" y="0" font-size="9" fill="#333333" textLength="69.47" lengthAdjust="spacingAndGlyphs">Relative expression</text>
<text x="441.03" y="592.30" font-size="8" fill="#333333" textLength="19.10" lengthAdjust="spacingAndGlyphs">IL-10</text>
<rect x="399.50" y="600.40" width="4.90" height="4.60" fill="#AC0A2C"/>
<rect x="399.50" y="612.00" width="4.90" height="4.90" fill="#2E4B7B"/>
<text x="406.53" y="605.00" font-size="8" fill="#333333" textLength="34.13" lengthAdjust="spacingAndGlyphs">Scramble</text>
<text x="406.68" y="616.90" font-size="8" fill="#333333" textLength="32.32" lengthAdjust="spacingAndGlyphs">siMEF2C</text>
<rect x="402.00" y="674.00" width="8.80" height="5.10" fill="#AC0A2C"/>
<rect x="413.30" y="671.30" width="8.50" height="7.80" fill="#2E4B7B"/>
<rect x="441.20" y="648.40" width="8.50" height="30.70" fill="#AC0A2C"/>
<rect x="451.80" y="637.40" width="9.10" height="41.70" fill="#2E4B7B"/>
<rect x="479.80" y="667.40" width="9.10" height="11.70" fill="#AC0A2C"/>
<rect x="490.90" y="637.80" width="8.80" height="41.30" fill="#2E4B7B"/>
<line x1="406.4" y1="666.4" x2="406.4" y2="674.2" stroke="#111" stroke-width="1.1"/>
<line x1="404.09999999999997" y1="666.4" x2="408.7" y2="666.4" stroke="#111" stroke-width="1.1"/>
<line x1="417.5" y1="659.2" x2="417.5" y2="671.5" stroke="#111" stroke-width="1.1"/>
<line x1="415.2" y1="659.2" x2="419.8" y2="659.2" stroke="#111" stroke-width="1.1"/>
<line x1="445.4" y1="644.4" x2="445.4" y2="652.2" stroke="#111" stroke-width="1.1"/>
<line x1="443.2" y1="644.4" x2="447.59999999999997" y2="644.4" stroke="#111" stroke-width="1.1"/>
<line x1="443.2" y1="652.2" x2="447.59999999999997" y2="652.2" stroke="#111" stroke-width="1.1"/>
<line x1="456.2" y1="632.1" x2="456.2" y2="642.3" stroke="#111" stroke-width="1.1"/>
<line x1="454.0" y1="632.1" x2="458.4" y2="632.1" stroke="#111" stroke-width="1.1"/>
<line x1="454.0" y1="642.3" x2="458.4" y2="642.3" stroke="#111" stroke-width="1.1"/>
<line x1="484.4" y1="665.2" x2="484.4" y2="667.6" stroke="#111" stroke-width="1.1"/>
<line x1="482.2" y1="665.2" x2="486.59999999999997" y2="665.2" stroke="#111" stroke-width="1.1"/>
<line x1="495.2" y1="610.8" x2="495.2" y2="664.3" stroke="#111" stroke-width="1.1"/>
<line x1="493.0" y1="610.8" x2="497.4" y2="610.8" stroke="#111" stroke-width="1.1"/>
<line x1="493.0" y1="664.3" x2="497.4" y2="664.3" stroke="#111" stroke-width="1.1"/>
<line x1="442.9" y1="625.3" x2="457.7" y2="625.3" stroke="#1a1a1a" stroke-width="1.2"/>
<circle cx="450.3" cy="620.9" r="1.05" fill="#111"/>
<line x1="482" y1="604.4" x2="496" y2="604.4" stroke="#1a1a1a" stroke-width="1.2"/>
<text x="476.2" y="599.3" font-size="8.8" fill="#333" textLength="29.6" lengthAdjust="spacingAndGlyphs"><tspan font-style="italic">p</tspan> = 0.06</text>
<text class="tk" x="409.13" y="690.60" font-size="8.9" fill="#333333" textLength="4.95" lengthAdjust="spacingAndGlyphs">0</text>
<text class="tk" x="448.05" y="690.60" font-size="8.9" fill="#333333" textLength="4.95" lengthAdjust="spacingAndGlyphs">4</text>
<text class="tk" x="485.20" y="690.60" font-size="8.9" fill="#333333" textLength="9.90" lengthAdjust="spacingAndGlyphs">20</text>
<text x="416.94" y="703.30" font-size="9.8" fill="#333333" textLength="67.96" lengthAdjust="spacingAndGlyphs">LPS stimulation (h)</text>
<rect x="0.75" y="0.75" width="518.5" height="711.5" fill="none" stroke="#000" stroke-width="1.5"/>
</svg>
</body></html>
